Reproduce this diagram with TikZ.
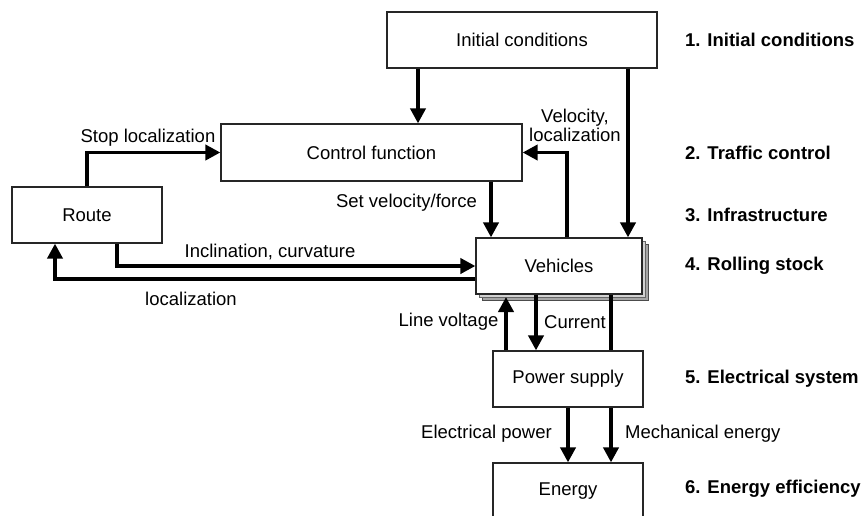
\documentclass[tikz,border=0pt]{standalone}
\usepackage{fontspec}
\setmainfont{Liberation Sans}
\usetikzlibrary{arrows.meta}
\begin{document}
\begin{tikzpicture}[x=1pt,y=-1pt,
  box/.style={draw=black!85,line width=1.2pt,fill=white,inner sep=0pt,minimum width=150pt,minimum height=56pt,font=\fontsize{18.5}{22}\selectfont},
  lbl/.style={font=\fontsize{18.5}{22}\selectfont,inner sep=0pt},
  sec/.style={font=\fontsize{18.5}{22}\selectfont\bfseries,inner sep=0pt,anchor=west},
  arr/.style={line width=3.8pt,-{Triangle[length=15pt,width=15pt]}},
  ln/.style={line width=3.8pt}]
\useasboundingbox (0,0) rectangle (866,515);
\clip (0,0) rectangle (866,515);
% boxes
\node[box,minimum width=270pt] (IC) at (522,40) {Initial conditions};
\node[box,minimum width=301pt,minimum height=57pt] (CF) at (371.5,152.5) {Control function};
\node[box] (RT) at (87,215) {Route};
\fill[gray!70,draw=black!70,line width=0.8pt] (482,244) rectangle (648,300);
\fill[gray!35,draw=black!60,line width=0.8pt] (479,241) rectangle (645,297);
\node[box,minimum width=166pt] (V) at (559,266) {Vehicles};
\node[box] (PS) at (568,379) {Power supply};
\node[box] (EN) at (568,491) {Energy};
% x/y helper coordinates
\coordinate (x418) at (418,0);
\coordinate (x628) at (628,0);
\coordinate (x491) at (491,0);
\coordinate (x567) at (567,0);
\coordinate (x117) at (117,0);
\coordinate (x55) at (55,0);
\coordinate (y279) at (0,279);
\coordinate (x506) at (506,0);
\coordinate (x536) at (536,0);
\coordinate (x611) at (611,0);
\coordinate (y297) at (0,297);
% connectors
\draw[arr] (x418 |- IC.south) -- (x418 |- CF.north);
\draw[arr] (x628 |- IC.south) -- (x628 |- V.north);
\draw[arr] (RT.north) |- (CF.west);
\draw[arr] (x491 |- CF.south) -- (x491 |- V.north);
\draw[arr] (x567 |- V.north) |- (CF.east);
\draw[arr] (x117 |- RT.south) |- (V.west);
\draw[arr] (V.west |- y279) -| (x55 |- RT.south);
\draw[arr] (x506 |- PS.north) -- (x506 |- y297);
\draw[arr] (x536 |- V.south) -- (x536 |- PS.north);
\draw[ln] (x611 |- V.south) -- (x611 |- PS.north);
\draw[arr] (x611 |- PS.south) -- (x611 |- EN.north);
\draw[arr] (PS.south) -- (EN.north);
% labels
\node[lbl] (l1) at (148,138) {Stop localization};
\node[lbl,align=center] (l2) at (575,125) {Velocity,\\[-3pt]localization};
\node[lbl] (l3) at (406.5,203) {Set velocity/force};
\node[lbl] (l4) at (270,252) {Inclination, curvature};
\node[lbl] (l5) at (191,299) {localization};
\node[lbl] (l6) at (448.5,322) {Line voltage};
\node[lbl] (l7) at (575,322) {Current};
\node[lbl] (l8) at (486.5,434) {Electrical power};
\node[lbl,anchor=west] (l9) at (625,434) {Mechanical energy};
% section labels
\node[sec] (s1) at (685,40) {1. Initial conditions};
\node[sec] (s2) at (685,153) {2. Traffic control};
\node[sec] (s3) at (685,215) {3. Infrastructure};
\node[sec] (s4) at (685,266) {4. Rolling stock};
\node[sec] (s5) at (685,379) {5. Electrical system};
\node[sec] (s6) at (685,489) {6. Energy efficiency};
\end{tikzpicture}
\end{document}
